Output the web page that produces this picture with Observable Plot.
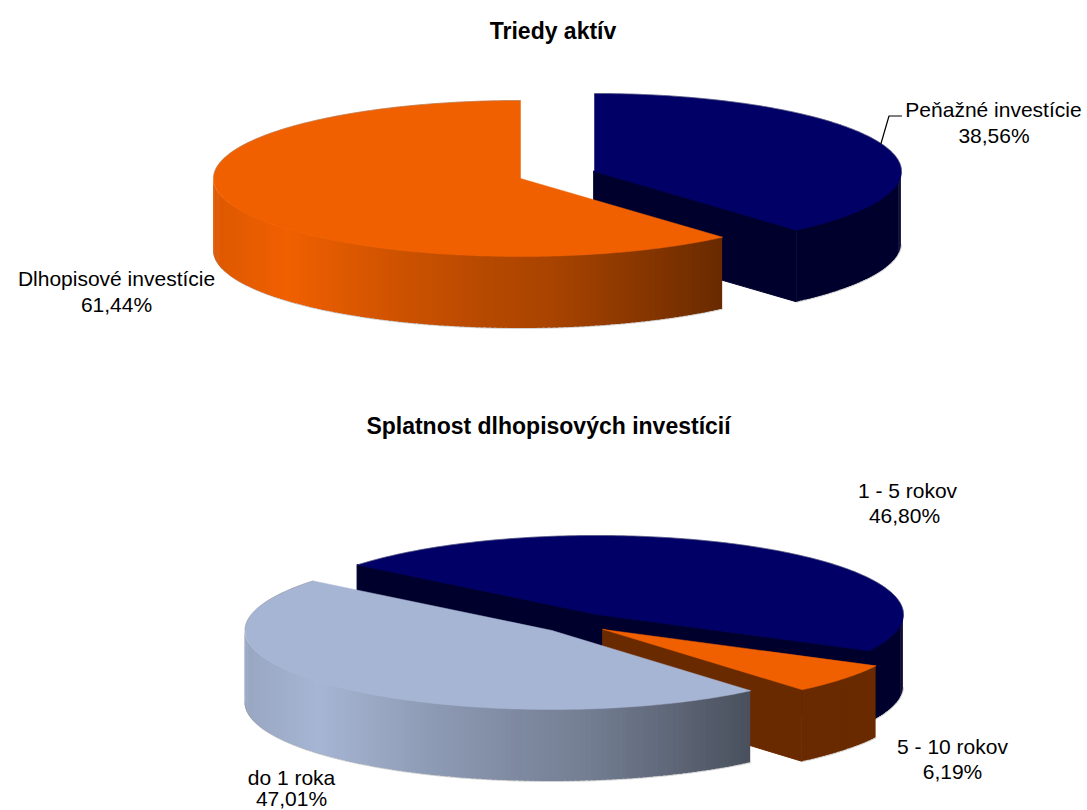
<!DOCTYPE html>
<html>
<head>
<meta charset="utf-8">
<script src="https://cdn.jsdelivr.net/npm/d3@7"></script>
<script src="https://cdn.jsdelivr.net/npm/@observablehq/plot@0.6"></script>
<style>
html,body{margin:0;padding:0;background:#fff;overflow:hidden}
svg{display:block}
</style>
</head>
<body>
<div id="chart"></div>
<script>
// ---- data ----
const assetTitle = "Triedy aktív";
const assetCategories = ["Peňažné investície", "Dlhopisové investície"];
const assetValues = [38.56, 61.44];

const maturityTitle = "Splatnost dlhopisových investícií";
const maturityCategories = ["1 - 5 rokov", "5 - 10 rokov", "do 1 roka"];
const maturityValues = [46.80, 6.19, 47.01];

// ---- styling & layout (drawing order: back to front) ----
const navy = "#000066", orange = "#F06000", pale = "#A6B5D3";
const rx = 307, depth = 72;
const labelSize = 21, titleSize = 23;
const layouts = [
  {
    title: assetTitle, titleAt: [552.5, 38], categories: assetCategories, values: assetValues,
    start: 0, ry: 78, colors: [navy, orange],
    centers: [[594, 171], [520, 178]],
    labels: [{name: [993, 116], value: [993.5, 142]}, {name: [116, 285], value: [116, 311]}]
  },
  {
    title: maturityTitle, titleAt: [548, 433], categories: maturityCategories, values: maturityValues,
    start: -51.1, ry: 79, colors: [navy, orange, pale],
    centers: [[596, 614], [603, 629], [551.5, 630]],
    labels: [{name: [907, 497], value: [904, 522]}, {name: [952, 753], value: [952, 778]}, {name: [291, 784], value: [291, 805]}]
  }
];
const leader = [[880.5, 143], [888.5, 115.5], [901, 115.5]];

// ---- geometry derived from the values ----
const rad = d => d * Math.PI / 180;
const shade = d3.scaleLinear()
  .domain([-1, -0.76, -0.43, -0.11, 0.11, 0.39, 0.65, 1])
  .range([0.92, 1, 0.87, 0.76, 0.7, 0.57, 0.44, 0.44]).clamp(true);
const tint = (c, s) => { const r = d3.rgb(c); return d3.rgb(r.r * s, r.g * s, r.b * s).formatHex(); };

const marks = [];
let stripId = 0;
for (const p of layouts) {
  let a = p.start;
  p.values.forEach((v, i) => {
    const a0 = a, a1 = a + v * 3.6; a = a1;
    const [cx, cy] = p.centers[i];
    const pt = t => ({x: cx + rx * Math.sin(rad(t)), y: cy - p.ry * Math.cos(rad(t))});
    const color = p.colors[i];
    const strip = (rows, A, B, fill) => {
      const z = stripId++;
      rows.push({x: A.x, y1: A.y, y2: A.y + depth, z, fill}, {x: B.x, y1: B.y, y2: B.y + depth, z, fill});
    };
    // cut faces that turn towards the viewer
    const cuts = [];
    if (Math.sin(rad(a0)) < -1e-6) strip(cuts, {x: cx, y: cy}, pt(a0), tint(color, 0.44));
    if (Math.sin(rad(a1)) > 1e-6) strip(cuts, {x: cx, y: cy}, pt(a1), tint(color, 0.44));
    if (cuts.length) {
      marks.push(Plot.areaY(cuts, {x: "x", y1: "y1", y2: "y2", z: "z", fill: "fill", stroke: "fill", strokeWidth: 1}));
    }
    // outer wall, front half only (each strip overlaps the next one so no seam shows)
    const arc = d3.range(a0, a1, 1).concat([a1]);
    const front = arc.filter(t => Math.cos(rad(t)) <= 0);
    const back = arc.filter(t => Math.cos(rad(t)) > 0);
    const walls = [];
    for (let k = 0; k < front.length - 1; k++) {
      const t0 = front[k], t1 = front[k + 1], m = (t0 + t1) / 2;
      strip(walls, pt(t0), pt(Math.min(t1 + 0.6, front[front.length - 1])), tint(color, shade(Math.sin(rad(m)))));
    }
    if (walls.length) {
      marks.push(Plot.areaY(walls, {x: "x", y1: "y1", y2: "y2", z: "z", fill: "fill"}));
      marks.push(Plot.line(front.map(pt), {x: "x", y: d => d.y + depth, stroke: "#8c8c8c", strokeOpacity: 0.4, strokeWidth: 1}));
    }
    // top face
    const face = [{x: cx, y: cy}, ...arc.map(pt), {x: cx, y: cy}];
    marks.push(Plot.line(face, {x: "x", y: "y", fill: color, stroke: color, strokeWidth: 0.5}));
    // the back edge of the rim carries a faint grey line
    if (back.length) {
      marks.push(Plot.line(back.map(pt), {x: "x", y: "y", stroke: "#8c8c8c", strokeOpacity: 0.4, strokeWidth: 1}));
    }
  });
}

// ---- texts ----
const fmt = v => v.toFixed(2).replace(".", ",") + "%";
const labelRows = layouts.flatMap(p => p.categories.flatMap((c, i) => [
  {text: c, at: p.labels[i].name},
  {text: fmt(p.values[i]), at: p.labels[i].value}
]));
const titleRows = layouts.map(p => ({text: p.title, at: p.titleAt}));

const sans = "Liberation Sans, Arial, sans-serif";
marks.push(Plot.line(leader, {x: d => d[0], y: d => d[1], stroke: "#000", strokeWidth: 1.2}));
marks.push(Plot.text(labelRows, {x: d => d.at[0], y: d => d.at[1], text: "text", lineAnchor: "bottom", fill: "#000", fontSize: labelSize, fontFamily: sans, textAnchor: "middle"}));
marks.push(Plot.text(titleRows, {x: d => d.at[0], y: d => d.at[1], text: "text", lineAnchor: "bottom", fill: "#000", fontSize: titleSize, fontWeight: "bold", fontFamily: sans, textAnchor: "middle"}));

const chart = Plot.plot({
  width: 1087, height: 810,
  margin: 0,
  style: {background: "#fff", overflow: "visible"},
  x: {domain: [0, 1087], range: [0, 1087], axis: null},
  y: {domain: [0, 810], range: [0, 810], axis: null},
  color: {type: "identity"},
  marks
});
document.getElementById("chart").append(chart);
</script>
</body>
</html>
